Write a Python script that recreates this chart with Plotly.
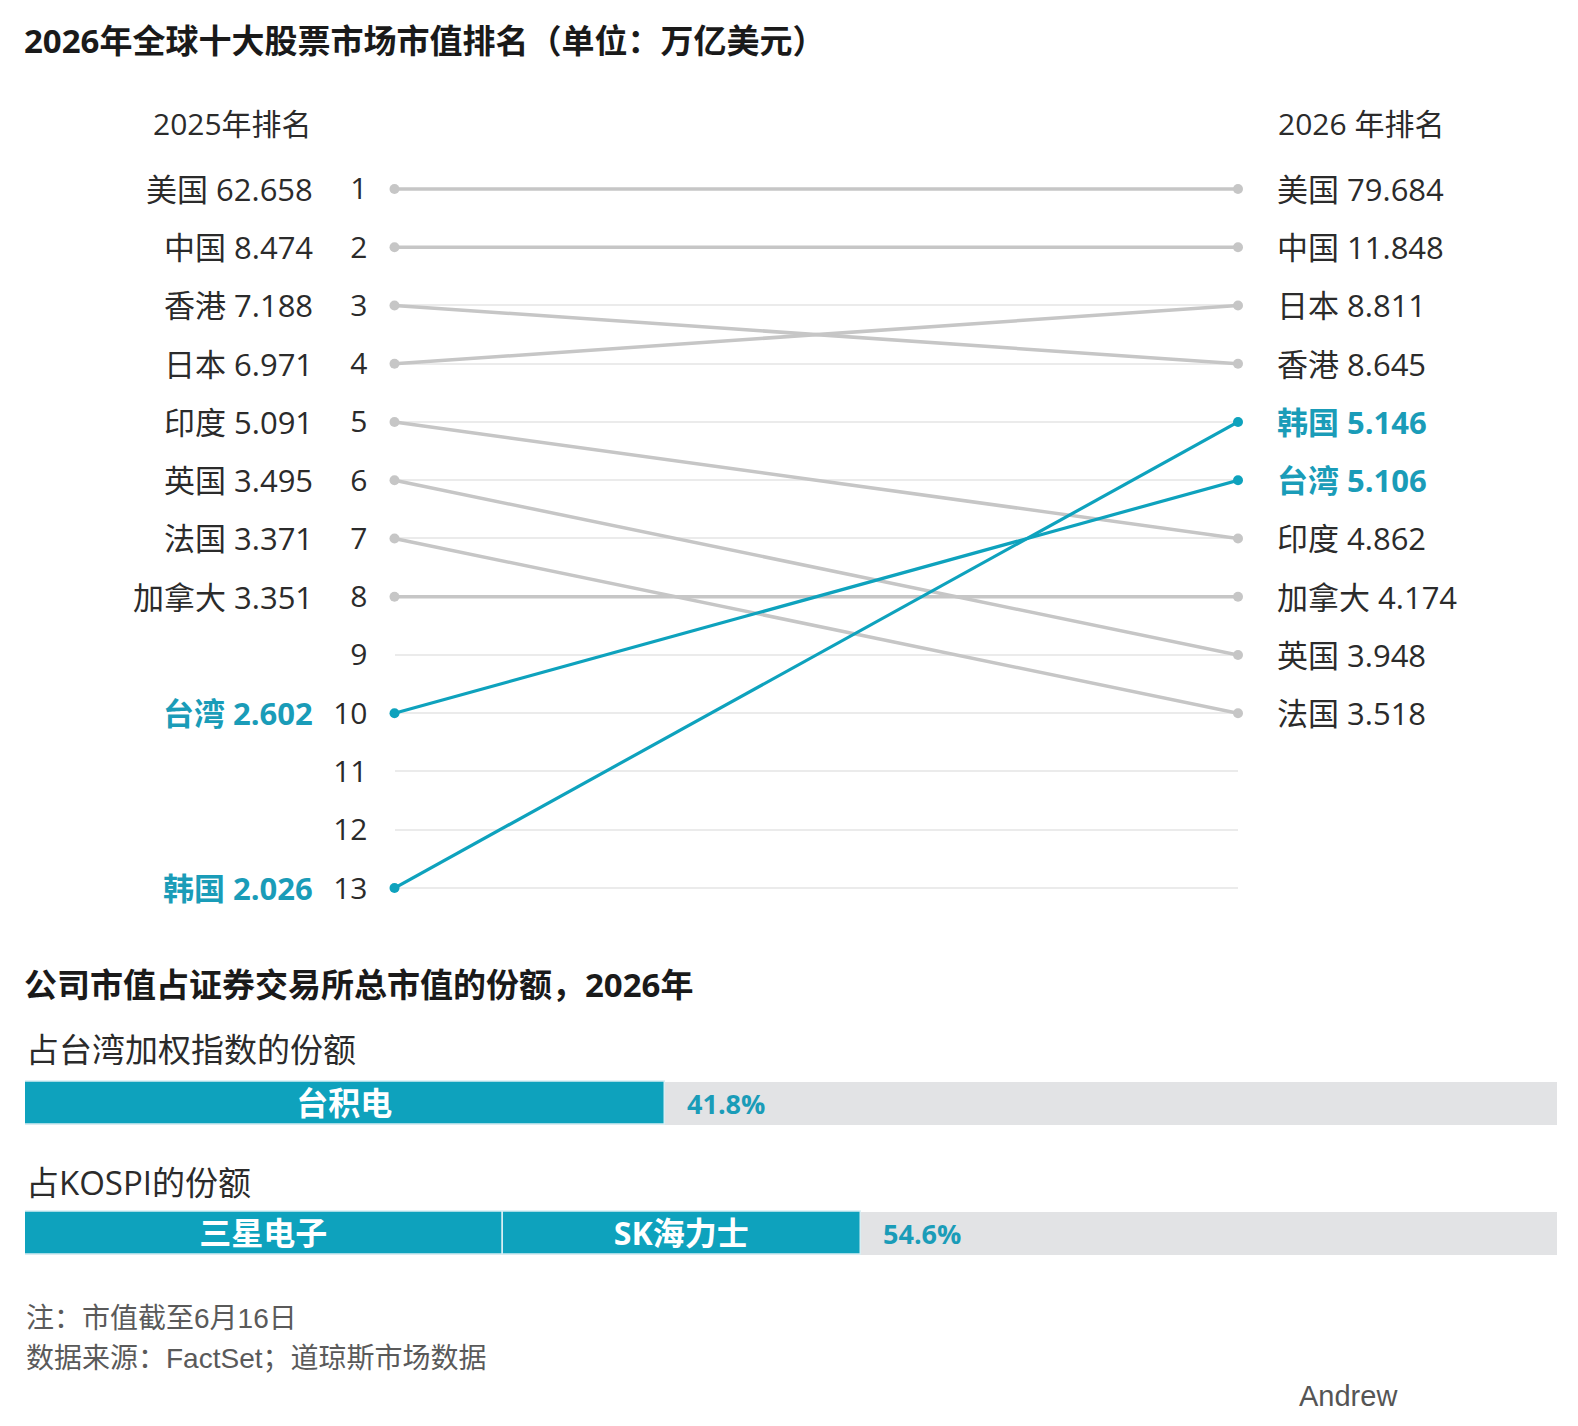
import plotly.graph_objects as go

# ---------------- data ----------------
countries = ["美国", "中国", "香港", "日本", "印度", "英国", "法国", "加拿大", "台湾", "韩国"]
rank_2025 = [1, 2, 3, 4, 5, 6, 7, 8, 10, 13]
value_2025 = [62.658, 8.474, 7.188, 6.971, 5.091, 3.495, 3.371, 3.351, 2.602, 2.026]
rank_2026 = [1, 2, 4, 3, 7, 9, 10, 8, 6, 5]
value_2026 = [79.684, 11.848, 8.645, 8.811, 4.862, 3.948, 3.518, 4.174, 5.106, 5.146]
highlighted = ["台湾", "韩国"]
rank_ticks = list(range(1, 14))

share_groups = ["占台湾加权指数的份额", "占KOSPI的份额"]
tw_companies = ["台积电"]
tw_shares = [41.8]
kr_companies = ["三星电子", "SK海力士"]
kr_shares = [31.2, 23.4]

title = "2026年全球十大股票市场市值排名（单位：万亿美元）"
left_header = "2025年排名"
right_header = "2026 年排名"
subtitle = "公司市值占证券交易所总市值的份额，2026年"
note = "注：市值截至6月16日"
source = "数据来源：FactSet；道琼斯市场数据"
watermark = "Andrew"

# ---------------- style / layout ----------------
W, H = 1578, 1426
FONT = "Open Sans, Noto Sans CJK SC, sans-serif"
FOOT_FONT = "Liberation Sans, Noto Sans CJK SC, sans-serif"
TEAL = "#0ea2bd"
TEAL_TXT = "#1a9cb8"
GRAY_LINE = "#c6c6c6"
GRID = "#ebebeb"
DARK = "#2b2b2b"


def py(p):
    return 1 - p / H


def pxx(p):
    return p / W


X_LEFT, X_RIGHT = 394.5, 1238.0
Y_R1, Y_R13 = 189.0, 888.0
STEP = (Y_R13 - Y_R1) / 12
PAD = 0.1
y_top = Y_R1 - PAD * STEP
y_bot = Y_R13 + PAD * STEP

fig = go.Figure()

order = [i for i, c in enumerate(countries) if c not in highlighted] + \
        [i for i, c in enumerate(countries) if c in highlighted]
for i in order:
    hl = countries[i] in highlighted
    col = TEAL if hl else GRAY_LINE
    fig.add_trace(go.Scatter(
        x=[0, 1], y=[rank_2025[i], rank_2026[i]],
        mode="lines+markers",
        line=dict(color=col, width=3.2 if hl else 3.5),
        marker=dict(color=col, size=10),
        cliponaxis=False, hoverinfo="skip", showlegend=False,
        xaxis="x", yaxis="y",
    ))

annotations = []
for i, c in enumerate(countries):
    hl = c in highlighted
    fnt = dict(family=FONT, size=31, color=TEAL_TXT if hl else DARK)
    t1 = f"{c} {value_2025[i]:.3f}"
    t2 = f"{c} {value_2026[i]:.3f}"
    if hl:
        t1, t2 = f"<b>{t1}</b>", f"<b>{t2}</b>"
    annotations.append(dict(x=0, y=rank_2025[i], xref="x", yref="y", text=t1,
                            showarrow=False, xanchor="right", yanchor="middle",
                            xshift=-80, font=fnt))
    annotations.append(dict(x=1, y=rank_2026[i], xref="x", yref="y", text=t2,
                            showarrow=False, xanchor="left", yanchor="middle",
                            xshift=37, font=fnt))

# ---------------- share bars ----------------
BAR_W = 0.33
fig.add_trace(go.Bar(
    y=[0, 1], x=[100, 100], base=[0, 0], orientation="h", width=BAR_W,
    marker=dict(color="#e2e3e5", line=dict(width=0)),
    hoverinfo="skip", showlegend=False, xaxis="x2", yaxis="y2",
))
bar_font = dict(family=FONT, size=32, color="white")
fig.add_trace(go.Bar(
    y=[0], x=[tw_shares[0]], base=[0], orientation="h", width=BAR_W,
    marker=dict(color=TEAL, line=dict(width=1.5, color="#d8eef3")),
    text=[f"<b>{tw_companies[0]}</b>"], textposition="inside",
    insidetextanchor="middle", textfont=bar_font, constraintext="none",
    hoverinfo="skip", showlegend=False, xaxis="x2", yaxis="y2",
))
base = 0
for comp, s in zip(kr_companies, kr_shares):
    fig.add_trace(go.Bar(
        y=[1], x=[s], base=[base], orientation="h", width=BAR_W,
        marker=dict(color=TEAL, line=dict(width=1.5, color="#d8eef3")),
        text=[f"<b>{comp}</b>"], textposition="inside",
        insidetextanchor="middle", textfont=bar_font, constraintext="none",
        hoverinfo="skip", showlegend=False, xaxis="x2", yaxis="y2",
    ))
    base += s

totals = [sum(tw_shares), sum(kr_shares)]
for k, tot in enumerate(totals):
    annotations.append(dict(x=tot, y=k, xref="x2", yref="y2", text=f"<b>{tot:.1f}%</b>",
                            showarrow=False, xanchor="left", yanchor="middle", xshift=20,
                            font=dict(family=FONT, size=27, color=TEAL_TXT)))

# ---------------- texts ----------------
def paper_text(text, x, y, size, color, anchor="left", family=FONT):
    annotations.append(dict(x=pxx(x), y=py(y), xref="paper", yref="paper", text=text,
                            showarrow=False, xanchor=anchor, yanchor="middle",
                            font=dict(family=family, size=size, color=color)))


paper_text(f"<b>{title}</b>", 22, 40, 33, "#1a1a1a")
paper_text(left_header, 314, 123, 30, DARK, anchor="right")
paper_text(right_header, 1276, 123, 30, DARK, anchor="left")
paper_text(f"<b>{subtitle}</b>", 22, 984, 33, "#1a1a1a")
paper_text(share_groups[0], 24, 1049, 33, DARK)
paper_text(share_groups[1], 24, 1182, 33, DARK)
paper_text(note, 24, 1318, 28, "#5a5a5a", family=FOOT_FONT)
paper_text(source, 24, 1358, 28, "#5a5a5a", family=FOOT_FONT)
paper_text(watermark, 1297, 1396, 29, "#555555", family=FOOT_FONT)

# bar axis geometry
BAR_C0, BAR_C1 = 1103.0, 1233.5
bstep = BAR_C1 - BAR_C0
b_top = BAR_C0 - 0.5 * bstep
b_bot = BAR_C1 + 0.5 * bstep

fig.update_layout(
    template="none",
    width=W, height=H,
    margin=dict(l=0, r=0, t=0, b=0, pad=0, autoexpand=False),
    paper_bgcolor="white", plot_bgcolor="white", showlegend=False,
    barmode="overlay", bargap=0,
    xaxis=dict(domain=[pxx(X_LEFT), pxx(X_RIGHT)], range=[0, 1], visible=False,
               automargin=False),
    yaxis=dict(domain=[py(y_bot), py(y_top)], range=[13 + PAD, 1 - PAD],
               tickvals=rank_ticks, ticktext=[str(r) for r in rank_ticks],
               showgrid=True, gridcolor=GRID, gridwidth=2, zeroline=False,
               showline=False, ticks="outside", ticklen=20,
               tickcolor="rgba(0,0,0,0)", automargin=False,
               tickfont=dict(family=FONT, size=30, color=DARK)),
    xaxis2=dict(domain=[pxx(25), pxx(1557)], range=[0, 100], visible=False,
                anchor="y2", automargin=False),
    yaxis2=dict(domain=[py(b_bot), py(b_top)], range=[1.5, -0.5], visible=False,
                anchor="x2", automargin=False),
    annotations=annotations,
)

fig.write_html("out.html")
